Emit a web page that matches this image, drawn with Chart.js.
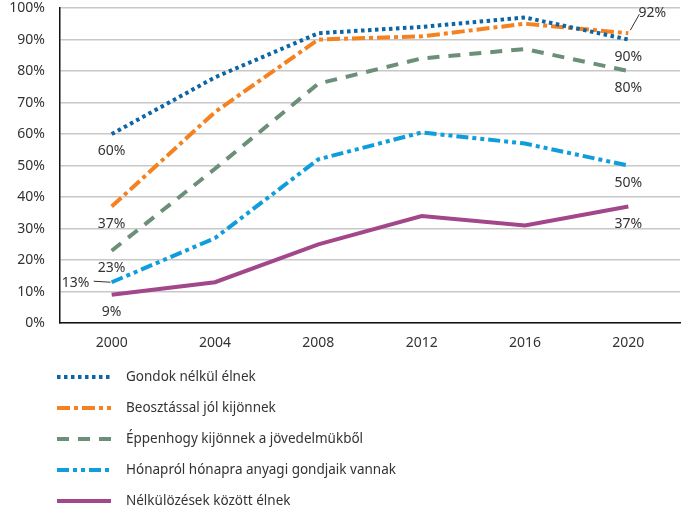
<!DOCTYPE html>
<html><head><meta charset="utf-8">
<script src="https://cdn.jsdelivr.net/npm/chart.js@4/dist/chart.umd.min.js"></script>
<style>html,body{margin:0;padding:0;background:#fff}#wrap{width:682px;height:512px}</style>
</head><body><div id="wrap"><canvas id="c" width="682" height="512"></canvas></div>
<script>
const years = ['2000','2004','2008','2012','2016','2020'];
const seriesNames = ['Gondok nélkül élnek','Beosztással jól kijönnek','Éppenhogy kijönnek a jövedelmükből','Hónapról hónapra anyagi gondjaik vannak','Nélkülözések között élnek'];
const gondokNelkul = [60, 78, 92, 94, 97, 90];
const beosztassal = [37, 67, 90, 91, 95, 92];
const eppenhogy = [23, 49, 76, 84, 87, 80];
const honaprol = [13, 27, 52, 60.5, 57, 50];
const nelkulozesek = [9, 13, 25, 34, 31, 37];
const yTicks = [0,10,20,30,40,50,60,70,80,90,100];

const colors = ['#0b65a6','#f58220','#6b8f78','#0f9ddb','#a2478a'];
const dashes = [[3.5,3.5],[13,4,4,4],[12,9],[12,4,4,4,4,4],[]];
const allData = [gondokNelkul, beosztassal, eppenhogy, honaprol, nelkulozesek];
const FONT = '"Noto Sans", "Open Sans", sans-serif';

const datasets = allData.map((d,i)=>({
  label: seriesNames[i], data: d, borderColor: colors[i], backgroundColor: colors[i],
  borderWidth: 4, borderDash: dashes[i], pointRadius: 0, tension: 0, fill: false,
  borderCapStyle: 'butt'
}));

// end labels: [dataset, index, dx, dy, align, leader]
const labels = [
  [0,0,0,17,'center',null],[1,0,0,17,'center',null],[2,0,0,17,'center',null],
  [3,0,-36,1,'center',[-18,-1,-1,0]],[4,0,0,17,'center',null],
  [0,5,0,17,'center',null],[1,5,24,-20,'center',[2,-3,11,-19]],[2,5,0,17,'center',null],
  [3,5,0,17,'center',null],[4,5,0,17,'center',null]
];

const overlay = {
  id:'overlay',
  afterDatasetsDraw(chart){
    const ctx = chart.ctx;
    ctx.save();
    ctx.font = '14px ' + FONT;
    ctx.fillStyle = '#333';
    ctx.textBaseline = 'middle';
    labels.forEach(([di,idx,dx,dy,al,ld])=>{
      const p = chart.getDatasetMeta(di).data[idx];
      const v = allData[di][idx];
      ctx.textAlign = al;
      ctx.fillText(Math.round(v)+'%', p.x+dx, p.y+dy);
      if (ld){
        ctx.strokeStyle = '#333'; ctx.lineWidth = 1; ctx.setLineDash([]);
        ctx.beginPath(); ctx.moveTo(p.x+ld[0], p.y+ld[1]); ctx.lineTo(p.x+ld[2], p.y+ld[3]); ctx.stroke();
      }
    });
    // legend
    ctx.textAlign = 'left';
    ctx.font = '13.5px ' + FONT;
    seriesNames.forEach((n,i)=>{
      const y = 377 + i*31;
      ctx.strokeStyle = colors[i]; ctx.lineWidth = 4; ctx.setLineDash(dashes[i]);
      ctx.beginPath(); ctx.moveTo(57, y); ctx.lineTo(111, y); ctx.stroke();
      ctx.setLineDash([]);
      ctx.fillStyle = '#333';
      ctx.fillText(n, 126, y);
    });
    ctx.restore();
  }
};

new Chart(document.getElementById('c'), {
  type:'line',
  data:{labels: years, datasets},
  options:{
    responsive:false, animation:false,
    layout:{padding:{top:8,right:2,bottom:150,left:0}},
    plugins:{legend:{display:false}, tooltip:{enabled:false}},
    scales:{
      x:{
        offset:true,
        grid:{display:false, drawTicks:false},
        border:{color:'#111', width:1.5},
        ticks:{color:'#333', font:{family:FONT, size:14}, padding:11}
      },
      y:{
        min:0, max:100,
        afterBuildTicks(s){ s.ticks = yTicks.map(v=>({value:v})); },
        afterFit(s){ s.width = 60; s.paddingTop = 0; s.paddingBottom = 0; },
        grid:{color:'#c8c8c8', lineWidth:1.5, drawTicks:false},
        border:{color:'#111', width:1.5},
        ticks:{color:'#333', font:{family:FONT, size:14}, padding:15, callback:v=>v+'%'}
      }
    }
  },
  plugins:[overlay]
});
</script></body></html>
